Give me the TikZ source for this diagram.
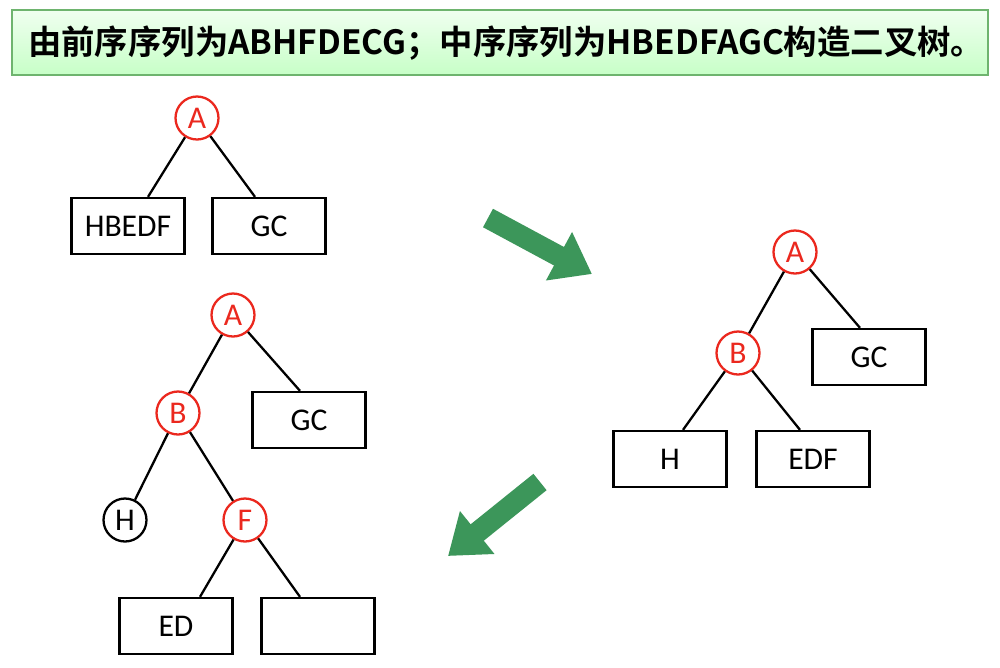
\documentclass[tikz,border=0pt]{standalone}
\usepackage{fontspec}
\setmainfont{Carlito}
\newfontfamily\cjk{Noto Sans CJK SC}[BoldFont={Noto Sans CJK SC Bold}]
\usetikzlibrary{arrows.meta}
\definecolor{tgreen}{RGB}{60,150,90}
\definecolor{tbord}{RGB}{110,180,110}
\definecolor{tred}{RGB}{235,40,30}
\begin{document}
\begin{tikzpicture}[x=0.02cm,y=-0.02cm,
  rc/.style={circle,draw=tred,line width=1.3pt,minimum size=0.86cm,inner sep=0pt,font=\fontsize{18}{18}\selectfont,text=tred},
  bc/.style={circle,draw=black,line width=1.3pt,minimum size=0.86cm,inner sep=0pt,font=\fontsize{18}{18}\selectfont},
  bx/.style={draw,line width=1.3pt,minimum width=2.26cm,minimum height=1.12cm,inner sep=0pt,font=\fontsize{18}{18}\selectfont},
  ed/.style={line width=1.3pt},
  bigarrow/.style={draw=tgreen,line width=0.42cm,-{Triangle[length=0.75cm,width=1.05cm]}}]
\useasboundingbox (0,0) rectangle (1000,667);
\fill[white] (0,0) rectangle (1000,667);
\shade[top color=green!6,bottom color=green!22,draw=tbord,line width=1pt] (12,10) rectangle (988,75);
\node[anchor=west,font=\cjk\bfseries\fontsize{19}{19}\selectfont] (title) at (22,43) {由前序序列为ABHFDECG；中序序列为HBEDFAGC构造二叉树。};
% tree 1
\node[rc] (a1) at (197,118) {A};
\node[bx] (hb1) at (128,226) {HBEDF};
\node[bx] (gc1) at (269,226) {GC};
\draw[ed] (a1) -- ([xshift=0.4cm]hb1.north); \draw[ed] (a1) -- ([xshift=-0.28cm]gc1.north);
% tree 2
\node[rc] (a2) at (795,252) {A};
\node[rc] (b2) at (738,353) {B};
\node[bx] (gc2) at (869,357) {GC};
\node[bx] (h2) at (670,459) {H};
\node[bx] (edf2) at (813,459) {EDF};
\draw[ed] (a2) -- (b2); \draw[ed] (a2) -- ([xshift=-0.18cm]gc2.north);
\draw[ed] (b2) -- ([xshift=0.26cm]h2.north); \draw[ed] (b2) -- ([xshift=-0.26cm]edf2.north);
% tree 3
\node[rc] (a3) at (233,315) {A};
\node[rc] (b3) at (178,413) {B};
\node[bx] (gc3) at (309,420) {GC};
\node[bc] (h3) at (125,520) {H};
\node[rc] (f3) at (245,520) {F};
\node[bx] (ed3) at (176,626) {ED};
\node[bx] (em3) at (318,626) {};
\draw[ed] (a3) -- ([xshift=-0.18cm]gc3.north); \draw[ed] (a3) -- (b3);
\draw[ed] (b3) -- (h3); \draw[ed] (b3) -- (f3);
\draw[ed] (f3) -- ([xshift=0.48cm]ed3.north); \draw[ed] (f3) -- ([xshift=-0.36cm]em3.north);
% arrows
\coordinate (s1) at (488,218); \coordinate (e1) at (592,274);
\coordinate (s2) at (540,482); \coordinate (e2) at (448,556);
\draw[bigarrow] (s1) -- (e1);
\draw[bigarrow] (s2) -- (e2);
\end{tikzpicture}
\end{document}
